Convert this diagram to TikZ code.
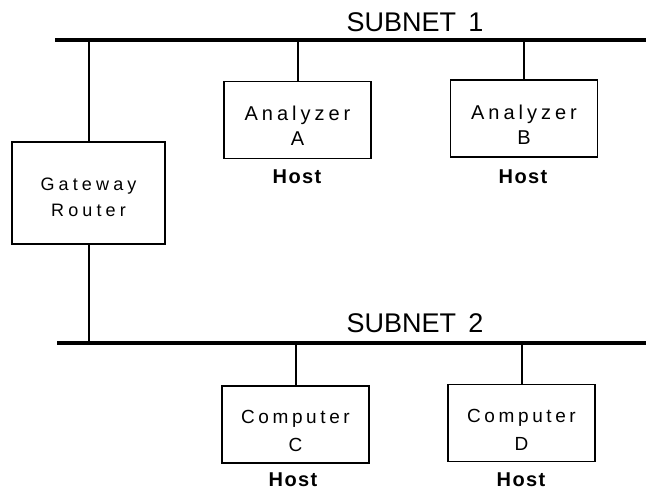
\documentclass[tikz,border=0pt]{standalone}
\usepackage{fontspec}
% Letter-spaced sans lettering for the device labels
\newfontfamily\devfont[LetterSpace=20]{Liberation Sans}
\newfontfamily\gatefont[LetterSpace=23]{Liberation Sans}
\newfontfamily\compfont[LetterSpace=19]{Liberation Sans}
\newfontfamily\netfont{Liberation Sans}
\newfontfamily\hostfont[LetterSpace=7]{Liberation Sans}
% invisible strut that lowers a two-line label inside its box
\newcommand\lowerby[1]{\rule{0pt}{#1}}

\begin{document}
\begin{tikzpicture}[x=1pt,y=-1pt,
  bus/.style={line width=3.2pt},
  drop/.style={line width=2pt},
  device/.style={draw,line width=1.2pt,rectangle,inner sep=0pt,
    minimum width=147pt,minimum height=77pt,align=center,
    font=\devfont\fontsize{20}{25}\selectfont},
  computer/.style={device,font=\compfont\fontsize{19}{28}\selectfont},
  gateway/.style={draw,line width=1.2pt,rectangle,inner sep=0pt,
    minimum width=153pt,minimum height=102pt,align=center,
    font=\gatefont\fontsize{18}{26}\selectfont},
  hostlabel/.style={inner sep=0pt,font=\hostfont\bfseries\fontsize{20}{22}\selectfont},
  netlabel/.style={inner sep=0pt,font=\netfont\fontsize{27}{30}\selectfont}]

\useasboundingbox (0,0) rectangle (646,491);

% Subnet backbones
\coordinate (s1w) at (55,40);
\coordinate (s1e) at (646,40);
\coordinate (s2w) at (57,343);
\coordinate (s2e) at (646,343);
\draw[bus] (s1w) -- (s1e);
\draw[bus] (s2w) -- (s2e);
\node[netlabel] (net1) at (415,22) {SUBNET\hspace{0.45em}1};
\node[netlabel] (net2) at (415,323) {SUBNET\hspace{0.45em}2};

% Gateway between the two subnets
\node[gateway] (gw) at (88.5,193) {\lowerby{21pt}Gateway\\Router};
\draw[drop] (gw.north) -- (gw.north |- s1w);
\draw[drop] (gw.south) -- (gw.south |- s2w);

% Hosts on subnet 1
\node[device] (anA) at (297.5,120) {\lowerby{26pt}Analyzer\\A};
\node[device] (anB) at (524,118.5) {\lowerby{26pt}Analyzer\\B};
\draw[drop] (anA.north) -- (anA.north |- s1w);
\draw[drop] (anB.north) -- (anB.north |- s1w);
\node[hostlabel] (hA) at (297,177) {Host};
\node[hostlabel] (hB) at (523,177) {Host};

% Hosts on subnet 2
\node[computer] (coC) at (295.5,424.5) {\lowerby{26pt}Computer\\C};
\node[computer] (coD) at (521.5,423) {\lowerby{26pt}Computer\\D};
\draw[drop] (coC.north) -- (coC.north |- s2w);
\draw[drop] (coD.north) -- (coD.north |- s2w);
\node[hostlabel] (hC) at (293,480) {Host};
\node[hostlabel] (hD) at (521,480) {Host};

\end{tikzpicture}
\end{document}
